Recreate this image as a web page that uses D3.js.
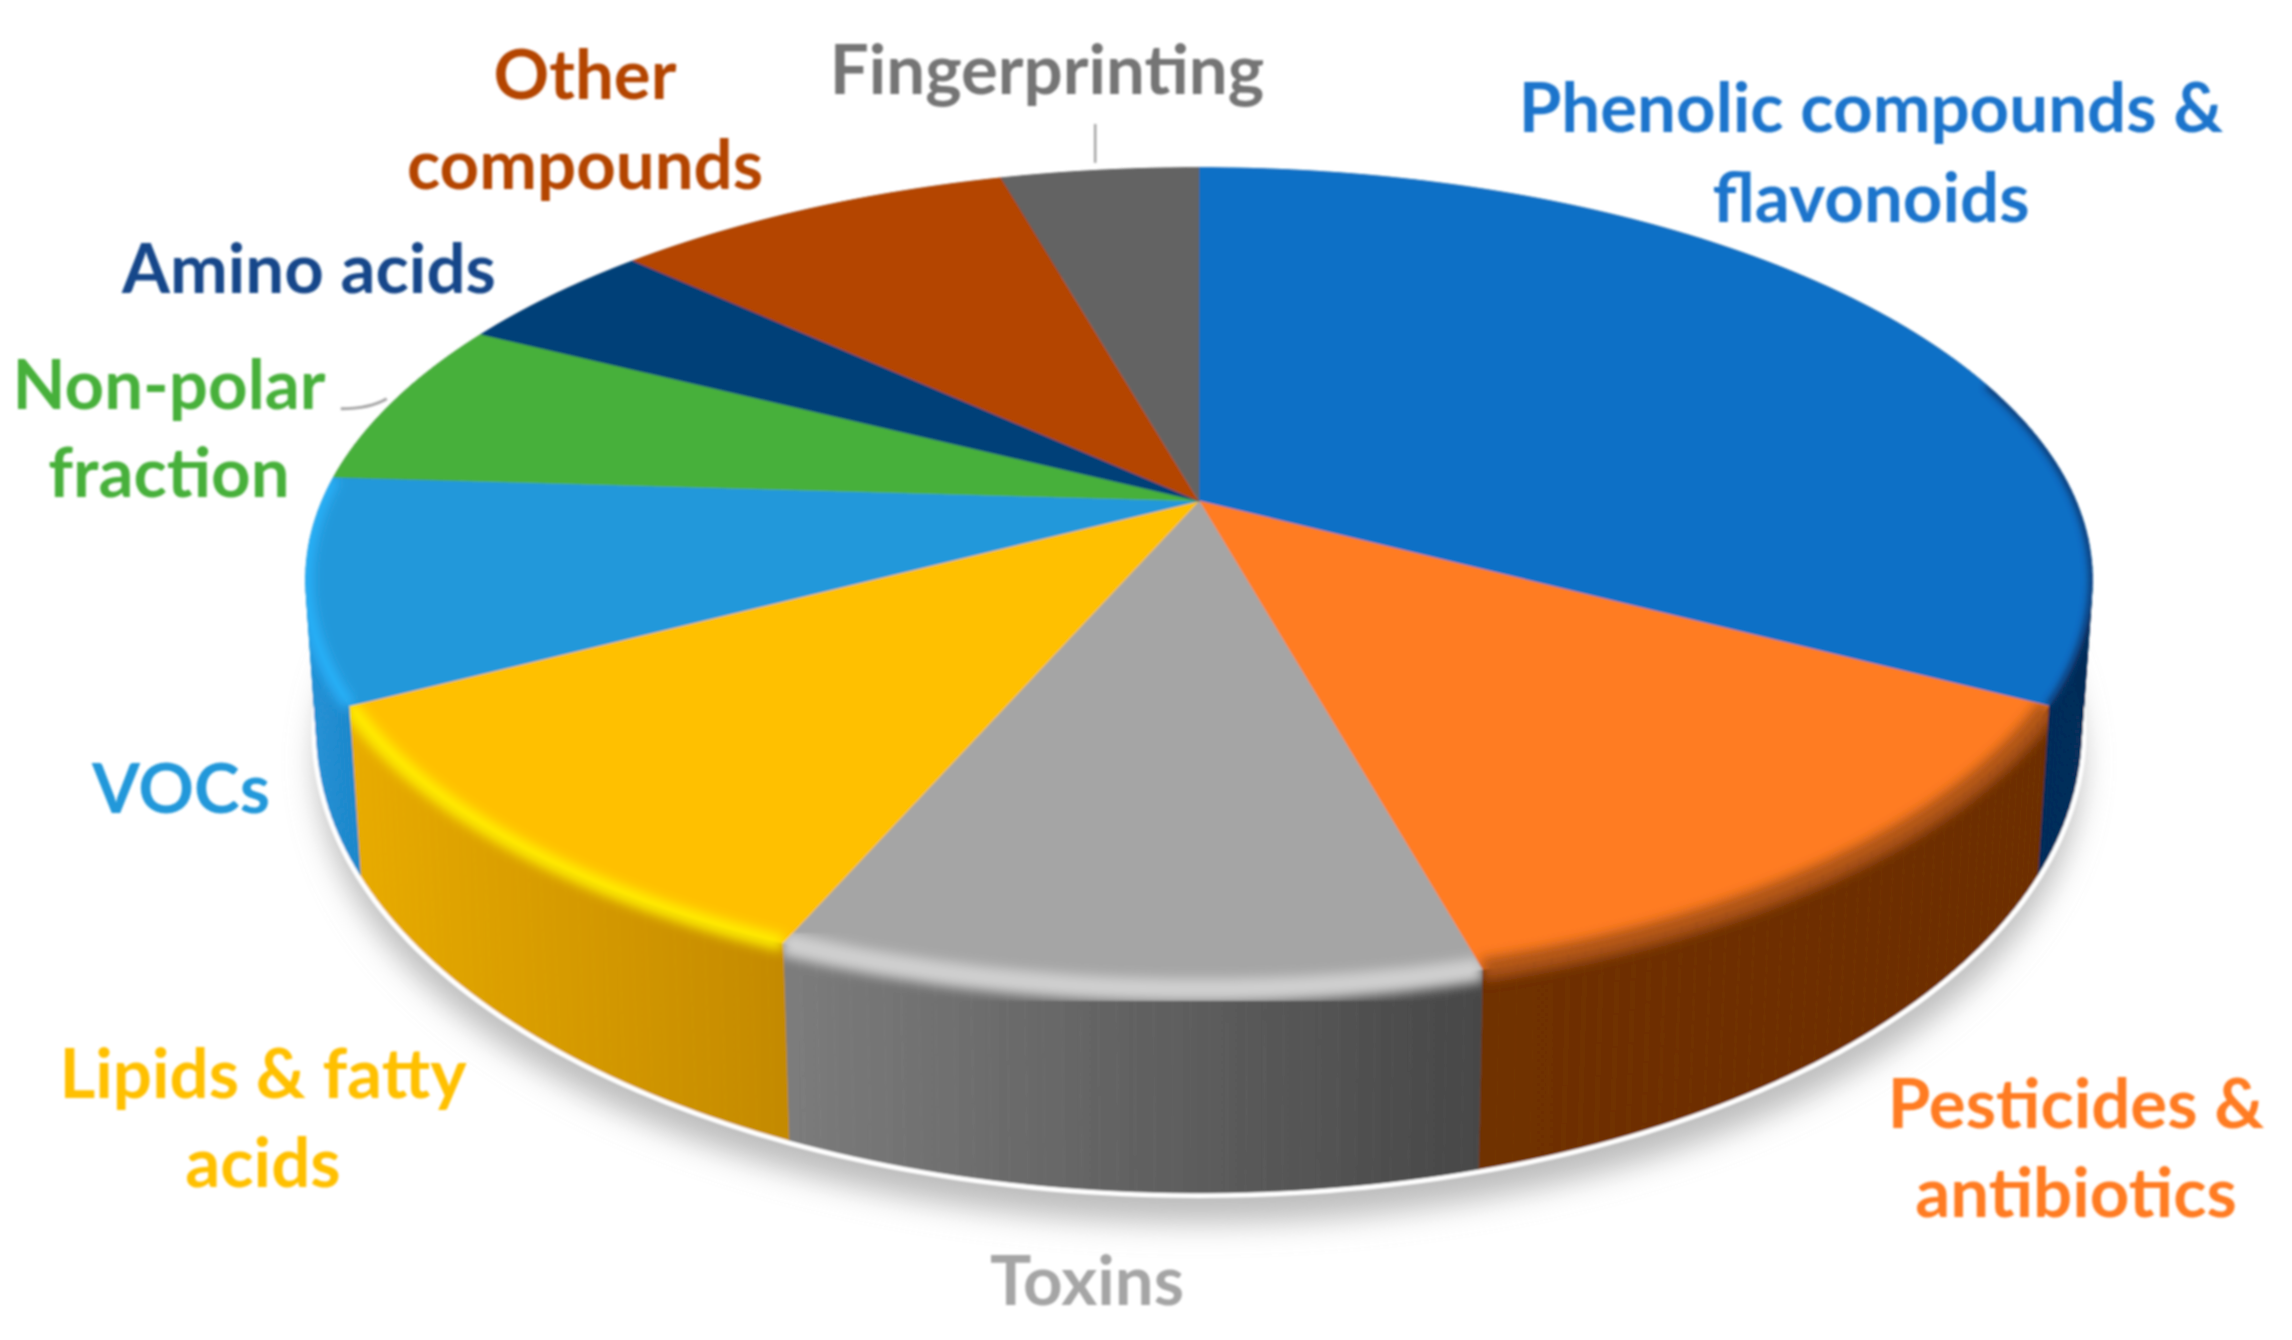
<!DOCTYPE html>
<html>
<head>
<meta charset="utf-8">
<script src="https://cdn.jsdelivr.net/npm/d3@7"></script>
<style>
  html, body { margin: 0; background: #fff; }
  svg { display: block; }
  text { font-family: Lato, "Open Sans", sans-serif; font-weight: 700; text-anchor: middle; }
</style>
</head>
<body>
<script>
// share of each slice, read clockwise from 12 o'clock
const categories = ["Phenolic compounds & flavonoids", "Pesticides & antibiotics", "Toxins",
    "Lipids & fatty acids", "VOCs", "Non-polar fraction", "Amino acids", "Other compounds", "Fingerprinting"]
const shares = [32.8, 12.95, 10.65, 10.8, 8.76, 6.59, 4.45, 8.7, 4.3]

const topColors = ["#0f6fc6", "#ff7c23", "#a5a5a5", "#ffc000", "#2398da", "#47b03a", "#024078", "#b44500", "#636363"]
const wallLeft = ["#0a4c93", "#6f3006", "#7c7c7c", "#e8ab00", "#2291d6", "#2a7022", "#012a50", "#702a00", "#3d3d3d"]
const wallRight = ["#022a56", "#6d2e05", "#474747", "#c48a00", "#1e88cc", "#2a7022", "#012a50", "#702a00", "#3d3d3d"]
const bevelColors = ["#07376e", "#ae5415", "#d0d0d0", "#ffee00", "#2cb6ff", null, null, null, null]
const bevelWidths = [7, 22, 24, 16, 12, 0, 0, 0, 0]
const labelColors = ["#1f75cc", "#ff7c23", "#a5a5a5", "#ffc000", "#2398da", "#47b03a", "#14478a", "#b44500", "#757575"]

// label layout: x centre, then a baseline per line
const labelLines = [
    [["Phenolic compounds &", 1871, 132], ["flavonoids", 1871, 222]],
    [["Pesticides &", 2076, 1128], ["antibiotics", 2076, 1217]],
    [["Toxins", 1087, 1305]],
    [["Lipids & fatty", 263, 1098], ["acids", 263, 1187]],
    [["VOCs", 181, 813]],
    [["Non-polar", 169, 409], ["fraction", 169, 497]],
    [["Amino acids", 309, 293]],
    [["Other", 585, 99], ["compounds", 585, 189]],
    [["Fingerprinting", 1047, 94]]
]

const width = 2292, height = 1340
const cx = 1199, cy = 501          // apex of the pie on screen
const R = 877, S = 396.6, T = 146  // disc radius, foreshortened radius, wall depth
const k = 0.19, m = 0.012          // perspective with distance and with depth
const tilt = 0.066                 // the lower rim is seen a little more openly
const fontSize = 69

function project(a, r, h) {
    const u = r * Math.sin(a), v = r * Math.cos(a)
    const w = 1 + k * v + m * h
    return [cx + R * u / w, cy - (S * (1 + tilt * h) * v - T * h) / w]
}

// samples along the rim, about one per degree
function rim(a0, a1, h) {
    const n = Math.max(2, Math.ceil((a1 - a0) * 180 / Math.PI))
    return d3.range(n + 1).map(i => project(a0 + (a1 - a0) * i / n, 1, h))
}

const line = d3.line()
const svg = d3.select("body").append("svg").attr("width", width).attr("height", height)
const defs = svg.append("defs")

const blur = (id, std) => defs.append("filter").attr("id", id)
    .attr("x", "-20%").attr("y", "-20%").attr("width", "140%").attr("height", "140%")
    .append("feGaussianBlur").attr("stdDeviation", std)
blur("soft", 0.9)
blur("softer", 1.3)
blur("shadow", 15)
blur("edge", 6)
blur("edgeThin", 3)

const slices = d3.pie().sort(null).value(d => d)(shares)
    .map((d, i) => {
        const upper = rim(d.startAngle, d.endAngle, 0), lower = rim(d.startAngle, d.endAngle, 1)
        return {
            i,
            a0: d.startAngle,
            a1: d.endAngle,
            top: line([[cx, cy], ...upper]) + "Z",
            // the wall is a strip of quads, one outline would pinch where the rims cross
            quads: d3.range(upper.length - 1).map(j =>
                line([upper[j], upper[j + 1], lower[j + 1], lower[j]]) + "Z")
        }
    })

slices.forEach(s => {
    const xs = rim(s.a0, s.a1, 0).map(p => p[0])
    const g = defs.append("linearGradient").attr("id", `wall${s.i}`)
        .attr("gradientUnits", "userSpaceOnUse")
        .attr("x1", d3.min(xs)).attr("x2", d3.max(xs)).attr("y1", 0).attr("y2", 0)
    g.append("stop").attr("offset", 0).attr("stop-color", wallLeft[s.i])
    g.append("stop").attr("offset", 1).attr("stop-color", wallRight[s.i])

    const clip = defs.append("clipPath").attr("id", `clip${s.i}`)
    clip.append("path").attr("d", s.top)
    s.quads.forEach(q => clip.append("path").attr("d", q))
})

const chart = svg.append("g").attr("filter", "url(#soft)")

// floor shadow, with the thin pale gap under the wall
const floor = line(rim(0, 2 * Math.PI, 1)) + "Z"
chart.append("path").attr("d", floor).attr("transform", "translate(0,30)")
    .attr("fill", "#bdbdbd").attr("filter", "url(#shadow)")
chart.append("path").attr("d", floor).attr("fill", "#fff")
    .attr("stroke", "#fff").attr("stroke-width", 10)

chart.append("g").selectAll("g").data(slices).join("g")
    .attr("fill", d => `url(#wall${d.i})`)
    .attr("stroke", d => `url(#wall${d.i})`)
    .attr("stroke-width", 0.7)
    .selectAll("path").data(d => d.quads).join("path")
    .attr("d", d => d)

chart.append("g").selectAll("path").data(slices).join("path")
    .attr("d", d => d.top)
    .attr("fill", d => topColors[d.i])
    .attr("stroke", d => topColors[d.i])
    .attr("stroke-width", 0.6)

// soft bevel where the top meets the wall, front of the disc only
const frontFrom = 72 * Math.PI / 180, frontTo = 288 * Math.PI / 180
chart.append("g").selectAll("g").data(slices.filter(s => bevelColors[s.i])).join("g")
    .attr("clip-path", d => `url(#clip${d.i})`)
    .append("path")
    .attr("d", d => line(rim(Math.max(d.a0, frontFrom), Math.min(d.a1, frontTo), 0)))
    .attr("fill", "none")
    .attr("stroke", d => bevelColors[d.i])
    .attr("stroke-width", d => bevelWidths[d.i])
    .attr("filter", d => bevelWidths[d.i] < 10 ? "url(#edgeThin)" : "url(#edge)")

// leader lines run out from the middle of their slice
const leaderOf = name => {
    const s = slices[categories.indexOf(name)]
    return project((s.a0 + s.a1) / 2, 1.005, 0)
}
const fp = leaderOf("Fingerprinting"), np = leaderOf("Non-polar fraction")
chart.append("path")
    .attr("d", `M${fp[0] - 4},${fp[1] - 6}V124`)
    .attr("fill", "none").attr("stroke", "#a6a6a6").attr("stroke-width", 2.5)
chart.append("path")
    .attr("d", `M${np[0] - 3},${np[1] - 2}Q${np[0] - 20},${np[1] + 8} ${np[0] - 49},${np[1] + 8}`)
    .attr("fill", "none").attr("stroke", "#a6a6a6").attr("stroke-width", 3)

svg.append("g").attr("filter", "url(#softer)").selectAll("g").data(labelLines).join("g")
    .attr("fill", (d, i) => labelColors[i])
    .style("font-size", fontSize + "px")
    .selectAll("text").data(d => d).join("text")
    .attr("x", d => d[1])
    .attr("y", d => d[2])
    .text(d => d[0])
</script>
</body>
</html>
